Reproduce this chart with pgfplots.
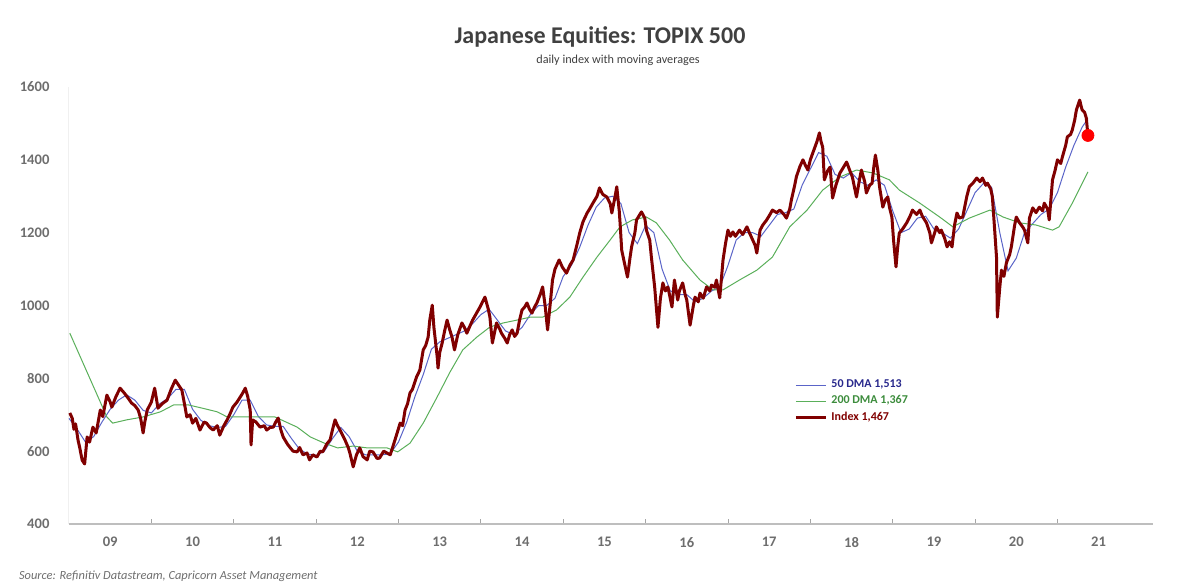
\documentclass[border=0pt]{standalone}
\usepackage{pgfplots}
\pgfplotsset{compat=1.18}
\usepackage{fontspec}
\setmainfont{Carlito}
\definecolor{idx}{RGB}{128,0,0}
\definecolor{dmafifty}{RGB}{90,100,200}
\definecolor{dmafiftytxt}{RGB}{40,40,140}
\definecolor{dmatwo}{RGB}{90,175,90}
\definecolor{dmatwotxt}{RGB}{60,140,60}
\definecolor{ticktxt}{RGB}{110,110,110}
\definecolor{titletxt}{RGB}{64,64,64}
\definecolor{axisgray}{RGB}{190,190,190}
\begin{document}
\begin{tikzpicture}
\path[use as bounding box] (0,0) rectangle (592pt,292.5pt);
\node[font=\fontsize{12}{14}\selectfont\bfseries, text=titletxt] at (300pt,274pt) {Japanese Equities: TOPIX 500};
\node[font=\fontsize{6.1}{7}\selectfont, text=titletxt] at (309pt,262.5pt) {daily index with moving averages};
\node[font=\fontsize{6.2}{7}\selectfont\itshape, text=ticktxt, anchor=west] at (6pt,4.5pt) {Source: Refinitiv Datastream, Capricorn Asset Management};
\begin{axis}[
  at={(34.5pt,30.5pt)}, anchor=south west,
  width=542pt, height=218.5pt, scale only axis,
  xmin=2009, xmax=2022.16, ymin=400, ymax=1600,
  axis x line=bottom, axis y line=left,
  x axis line style={-, draw=axisgray, line width=1.1pt},
  y axis line style={-, draw=gray!12, line width=0.5pt},
  xtick={2010,...,2021}, xticklabels={},
  xtick align=inside, major tick length=2.5pt,
  xtick style={draw=gray!70, line width=0.4pt},
  extra x ticks={2009.5,2010.5,2011.5,2012.5,2013.5,2014.5,2015.5,2016.5,2017.5,2018.5,2019.5,2020.5,2021.5},
  extra x tick labels={09,10,11,12,13,14,15,16,17,18,19,20,21},
  extra x tick style={major tick length=0pt},
  ytick={400,600,...,1600},
  ytick style={draw=none},
  yticklabel style={/pgf/number format/set thousands separator={}, /pgf/number format/assume math mode=true, font=\fontsize{7.3}{8}\selectfont\bfseries, text=ticktxt},
  xticklabel style={font=\fontsize{7.3}{8}\selectfont\bfseries, text=ticktxt},
  yticklabel shift=5pt, xticklabel shift=3pt,
  clip=false,
  legend style={at={(0.667,0.345)}, anchor=north west, draw=none, fill=none, font=\fontsize{6}{7}\selectfont\bfseries, row sep=-1.5pt, inner sep=1pt},
  legend cell align=left,
  legend image code/.code={\draw[#1] (0pt,0pt) -- (15pt,0pt);},
]
\addplot[dmafifty, line width=0.5pt] coordinates {
(2009.00,690)(2009.10,660)(2009.20,625)(2009.30,640)(2009.40,680)(2009.50,715)(2009.60,740)(2009.70,755)(2009.80,740)(2009.90,712)
(2010.00,705)(2010.10,730)(2010.20,745)(2010.30,770)(2010.40,770)(2010.50,715)(2010.60,685)(2010.70,670)(2010.80,665)(2010.90,668)
(2011.00,700)(2011.10,740)(2011.20,740)(2011.30,695)(2011.40,672)(2011.50,668)(2011.60,668)(2011.70,635)(2011.80,605)(2011.90,592)
(2012.00,588)(2012.10,600)(2012.20,635)(2012.30,665)(2012.40,640)(2012.50,600)(2012.60,590)(2012.70,590)(2012.80,590)(2012.90,593)
(2013.00,625)(2013.10,680)(2013.20,750)(2013.30,810)(2013.40,880)(2013.50,900)(2013.60,910)(2013.70,920)(2013.80,930)(2013.90,950)
(2014.00,975)(2014.10,990)(2014.20,960)(2014.30,930)(2014.40,920)(2014.50,940)(2014.60,975)(2014.70,1000)(2014.80,1000)(2014.90,1020)
(2015.00,1080)(2015.10,1110)(2015.20,1160)(2015.30,1220)(2015.40,1270)(2015.50,1295)(2015.60,1300)(2015.70,1280)(2015.80,1200)(2015.90,1170)
(2016.00,1220)(2016.10,1200)(2016.20,1100)(2016.30,1040)(2016.40,1030)(2016.50,1030)(2016.60,1010)(2016.70,1020)(2016.80,1040)(2016.90,1050)
(2017.00,1110)(2017.10,1180)(2017.20,1200)(2017.30,1200)(2017.40,1190)(2017.50,1220)(2017.60,1250)(2017.70,1255)(2017.80,1265)(2017.90,1330)
(2018.00,1375)(2018.10,1420)(2018.20,1410)(2018.30,1360)(2018.40,1350)(2018.50,1365)(2018.60,1340)(2018.70,1330)(2018.80,1345)(2018.90,1330)
(2019.00,1260)(2019.10,1200)(2019.20,1210)(2019.30,1240)(2019.40,1245)(2019.50,1210)(2019.60,1200)(2019.70,1185)(2019.80,1210)(2019.90,1260)
(2020.00,1310)(2020.10,1335)(2020.20,1325)(2020.30,1200)(2020.40,1095)(2020.50,1130)(2020.60,1200)(2020.70,1225)(2020.80,1250)(2020.90,1265)
(2021.00,1310)(2021.10,1380)(2021.20,1440)(2021.30,1490)(2021.37,1513)
};
\addlegendentry{\textcolor{dmafiftytxt}{50 DMA 1,513}}
\addplot[dmatwo, line width=0.5pt] coordinates {
(2009.01,924)(2009.46,694)(2009.53,677)(2009.70,686)(2009.90,694)(2010.11,708)(2010.27,727)(2010.45,727)(2010.62,718)(2010.80,708)
(2010.92,694)(2011.20,694)(2011.50,694)(2011.77,666)(2011.93,639)(2012.10,622)(2012.26,609)(2012.45,614)(2012.62,609)(2012.86,609)(2012.99,598)
(2013.14,622)(2013.30,677)(2013.47,749)(2013.62,815)(2013.78,878)(2013.95,913)(2014.11,941)(2014.27,952)(2014.44,960)(2014.60,968)
(2014.75,968)(2014.92,988)(2015.08,1023)(2015.24,1078)(2015.41,1133)(2015.57,1180)(2015.69,1216)(2015.84,1235)(2016.01,1243)(2016.13,1227)
(2016.29,1180)(2016.45,1125)(2016.66,1070)(2016.82,1043)(2016.94,1043)(2017.14,1070)(2017.35,1097)(2017.54,1133)(2017.75,1216)(2017.96,1262)
(2018.15,1317)(2018.36,1353)(2018.56,1372)(2018.76,1364)(2018.96,1345)(2019.08,1317)(2019.33,1281)(2019.57,1243)(2019.73,1216)(2019.93,1240)
(2020.18,1262)(2020.34,1243)(2020.54,1227)(2020.74,1221)(2020.94,1207)(2021.02,1216)(2021.18,1281)(2021.37,1367)
};
\addlegendentry{\textcolor{dmatwotxt}{200 DMA 1,367}}
\addplot[idx, line width=1.5pt, line join=round] coordinates {
(2009.01,705)(2009.04,690)(2009.06,660)(2009.08,675)(2009.11,630)(2009.13,610)(2009.16,575)(2009.19,565)(2009.22,639)(2009.25,625)
(2009.29,666)(2009.33,650)(2009.38,713)(2009.41,695)(2009.46,754)(2009.50,735)(2009.52,721)(2009.57,750)(2009.62,773)(2009.67,760)
(2009.72,745)(2009.76,732)(2009.80,725)(2009.84,713)(2009.87,690)(2009.90,650)(2009.92,680)(2009.95,713)(2010.00,735)(2010.04,773)
(2010.08,718)(2010.13,730)(2010.19,740)(2010.24,770)(2010.29,795)(2010.32,785)(2010.37,768)(2010.41,720)(2010.43,694)(2010.47,700)
(2010.50,677)(2010.54,690)(2010.59,658)(2010.64,680)(2010.67,677)(2010.71,665)(2010.75,658)(2010.80,670)(2010.83,644)(2010.88,670)
(2010.92,686)(2010.95,700)(2010.99,721)(2011.04,735)(2011.08,749)(2011.11,760)(2011.14,773)(2011.17,750)(2011.20,713)(2011.21,617)
(2011.23,686)(2011.27,680)(2011.32,666)(2011.37,670)(2011.40,658)(2011.44,665)(2011.48,666)(2011.51,680)(2011.54,691)(2011.57,660)
(2011.60,639)(2011.65,620)(2011.68,611)(2011.72,600)(2011.77,598)(2011.80,610)(2011.84,590)(2011.89,595)(2011.92,576)(2011.96,590)
(2012.01,584)(2012.05,600)(2012.08,598)(2012.13,620)(2012.17,631)(2012.20,660)(2012.23,686)(2012.26,670)(2012.29,658)(2012.33,640)
(2012.35,631)(2012.39,610)(2012.41,595)(2012.45,557)(2012.49,590)(2012.53,609)(2012.57,585)(2012.62,576)(2012.65,600)(2012.69,598)
(2012.74,580)(2012.77,581)(2012.82,600)(2012.86,595)(2012.90,590)(2012.93,611)(2012.97,640)(2013.02,677)(2013.05,670)(2013.08,713)
(2013.11,730)(2013.14,760)(2013.17,770)(2013.22,804)(2013.26,823)(2013.30,878)(2013.33,890)(2013.36,913)(2013.38,960)(2013.41,1001)
(2013.43,940)(2013.47,859)(2013.48,828)(2013.50,870)(2013.53,897)(2013.56,930)(2013.59,960)(2013.62,935)(2013.65,913)(2013.68,878)
(2013.72,920)(2013.77,952)(2013.80,940)(2013.83,924)(2013.87,945)(2013.90,960)(2013.95,980)(2013.99,996)(2014.02,1010)(2014.05,1023)
(2014.09,990)(2014.11,968)(2014.14,897)(2014.17,930)(2014.19,952)(2014.23,935)(2014.25,924)(2014.29,910)(2014.32,897)(2014.35,920)
(2014.38,933)(2014.41,915)(2014.44,924)(2014.47,960)(2014.50,988)(2014.53,995)(2014.56,1007)(2014.59,990)(2014.62,979)(2014.65,995)
(2014.68,1007)(2014.72,1030)(2014.75,1051)(2014.78,1000)(2014.81,933)(2014.84,1000)(2014.87,1070)(2014.90,1100)(2014.95,1125)(2014.99,1105)
(2015.04,1089)(2015.08,1110)(2015.12,1125)(2015.17,1170)(2015.20,1199)(2015.24,1230)(2015.29,1254)(2015.32,1265)(2015.36,1281)(2015.41,1300)
(2015.44,1323)(2015.48,1305)(2015.53,1298)(2015.57,1280)(2015.59,1254)(2015.63,1300)(2015.65,1326)(2015.68,1260)(2015.69,1227)(2015.71,1152)
(2015.74,1120)(2015.78,1078)(2015.81,1130)(2015.83,1161)(2015.87,1200)(2015.89,1235)(2015.93,1250)(2015.95,1257)(2015.99,1240)(2016.01,1207)
(2016.05,1180)(2016.07,1133)(2016.11,1051)(2016.15,940)(2016.18,1020)(2016.21,1062)(2016.24,1040)(2016.27,1051)(2016.29,1030)(2016.32,996)
(2016.35,1070)(2016.39,1015)(2016.41,1040)(2016.45,1062)(2016.48,1030)(2016.50,1015)(2016.54,946)(2016.58,1000)(2016.60,1023)(2016.64,1010)
(2016.66,1034)(2016.70,1020)(2016.74,1051)(2016.78,1040)(2016.80,1056)(2016.84,1050)(2016.86,1070)(2016.90,1021)(2016.94,1125)(2016.97,1170)
(2017.00,1207)(2017.03,1190)(2017.06,1202)(2017.09,1190)(2017.14,1207)(2017.18,1195)(2017.23,1216)(2017.26,1200)(2017.30,1180)(2017.33,1165)
(2017.35,1144)(2017.39,1207)(2017.42,1220)(2017.47,1235)(2017.51,1250)(2017.54,1262)(2017.59,1255)(2017.63,1262)(2017.68,1250)(2017.71,1240)
(2017.75,1265)(2017.77,1290)(2017.81,1330)(2017.83,1353)(2017.87,1380)(2017.91,1400)(2017.94,1385)(2017.97,1372)(2018.00,1400)(2018.03,1419)
(2018.08,1450)(2018.11,1474)(2018.13,1450)(2018.15,1435)(2018.17,1345)(2018.21,1370)(2018.24,1380)(2018.27,1295)(2018.31,1330)(2018.36,1364)
(2018.39,1375)(2018.44,1394)(2018.48,1370)(2018.51,1353)(2018.54,1320)(2018.56,1298)(2018.60,1350)(2018.62,1372)(2018.66,1340)(2018.68,1309)
(2018.72,1330)(2018.75,1336)(2018.77,1380)(2018.79,1413)(2018.82,1370)(2018.84,1326)(2018.88,1270)(2018.91,1290)(2018.94,1298)(2018.96,1270)
(2018.99,1243)(2019.01,1180)(2019.04,1106)(2019.06,1160)(2019.08,1199)(2019.12,1210)(2019.17,1227)(2019.21,1245)(2019.24,1262)(2019.29,1250)
(2019.33,1262)(2019.36,1245)(2019.41,1227)(2019.45,1200)(2019.47,1172)(2019.51,1200)(2019.53,1216)(2019.57,1200)(2019.59,1207)(2019.63,1185)
(2019.66,1161)(2019.69,1175)(2019.72,1161)(2019.75,1220)(2019.78,1254)(2019.81,1240)(2019.85,1243)(2019.90,1300)(2019.93,1326)(2019.97,1335)
(2020.02,1350)(2020.06,1340)(2020.09,1350)(2020.13,1330)(2020.15,1336)(2020.19,1320)(2020.21,1298)(2020.24,1200)(2020.26,1133)(2020.27,968)
(2020.30,1050)(2020.32,1097)(2020.35,1080)(2020.38,1117)(2020.42,1140)(2020.44,1161)(2020.48,1220)(2020.50,1243)(2020.54,1227)(2020.58,1215)
(2020.60,1207)(2020.64,1172)(2020.66,1240)(2020.70,1268)(2020.74,1255)(2020.78,1270)(2020.82,1260)(2020.84,1281)(2020.88,1265)(2020.90,1235)
(2020.94,1345)(2020.97,1370)(2021.00,1400)(2021.04,1390)(2021.06,1408)(2021.10,1440)(2021.12,1463)(2021.16,1470)(2021.18,1482)(2021.21,1510)
(2021.23,1537)(2021.27,1564)(2021.29,1545)(2021.30,1537)(2021.33,1530)(2021.35,1515)(2021.37,1467)
};
\addlegendentry{\textcolor{idx}{Index 1,467}}
\addplot[only marks, mark=*, mark size=3pt, color=red, forget plot] coordinates {(2021.37,1467)};
\end{axis}
\end{tikzpicture}
\end{document}
